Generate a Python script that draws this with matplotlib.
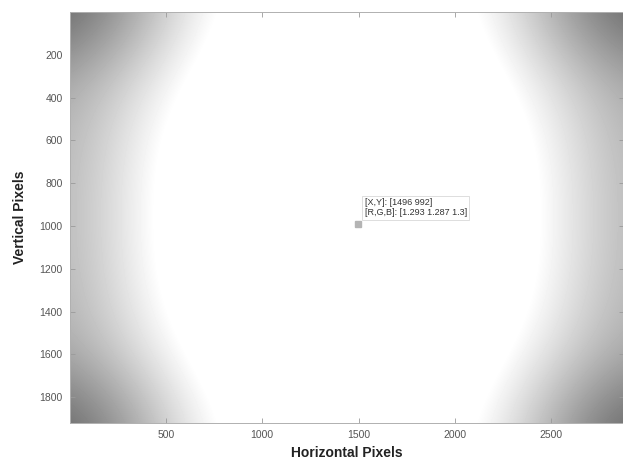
import numpy as np
import matplotlib
matplotlib.use("Agg")
import matplotlib.pyplot as plt

plt.rcParams['font.family'] = ['Liberation Sans', 'DejaVu Sans']

sample_x = [0, 360, 720, 1080, 1440, 1800, 2160, 2520, 2880]
sample_y = [0, 320, 640, 960, 1280, 1600, 1920]
intensity_rows = [
    [0.38, 0.66, 0.99, 1.10, 1.13, 1.10, 0.99, 0.66, 0.38],
    [0.66, 0.87, 1.08, 1.20, 1.24, 1.20, 1.08, 0.87, 0.66],
    [0.71, 0.95, 1.15, 1.25, 1.28, 1.25, 1.15, 0.95, 0.71],
    [0.72, 0.96, 1.17, 1.27, 1.30, 1.27, 1.17, 0.96, 0.72],
    [0.71, 0.95, 1.15, 1.25, 1.28, 1.25, 1.15, 0.95, 0.71],
    [0.66, 0.87, 1.08, 1.20, 1.24, 1.20, 1.08, 0.87, 0.66],
    [0.38, 0.66, 0.99, 1.10, 1.13, 1.10, 0.99, 0.66, 0.38],
]
img_width = 2880
img_height = 1920

tip_x, tip_y = 1496, 992
tip_rgb = [1.293, 1.287, 1.3]

x_ticks = [500, 1000, 1500, 2000, 2500]
y_ticks = [200, 400, 600, 800, 1000, 1200, 1400, 1600, 1800]

fig = plt.figure(figsize=(6.23, 4.59), dpi=100)
ax = fig.add_axes([0.1119, 0.0784, 0.8905, 0.8952])

grid = np.array(intensity_rows)
dx = sample_x[1] - sample_x[0]
dy = sample_y[1] - sample_y[0]
ax.imshow(grid, cmap='gray', vmin=0, vmax=1, interpolation='bicubic',
          extent=(sample_x[0] - dx / 2, sample_x[-1] + dx / 2,
                  sample_y[-1] + dy / 2, sample_y[0] - dy / 2),
          aspect='auto')
ax.set_xlim(0.5, img_width + 0.5)
ax.set_ylim(img_height + 0.5, 0.5)

ax.plot([tip_x], [tip_y], marker='s', markersize=4, color='#b4b4b4',
        markeredgecolor='#b4b4b4', linestyle='none')
txt = "[X,Y]: [%d %d]\n[R,G,B]: [%s %s %s]" % (tip_x, tip_y, *[str(v) for v in tip_rgb])
ax.annotate(txt, xy=(tip_x, tip_y), xytext=(5, 5), textcoords='offset points',
            ha='left', va='bottom', fontsize=6.5, color='#333333', linespacing=1.15,
            bbox=dict(boxstyle='square,pad=0.25', fc='white', ec='#d8d8d8', lw=0.6))

ax.set_xticks(x_ticks)
ax.set_yticks(y_ticks)
ax.tick_params(direction='in', length=3.5, width=0.6, colors='#9a9a9a',
               labelcolor='#555555', labelsize=7.5, top=True, right=True, pad=5)
for s in ax.spines.values():
    s.set_color('#b0b0b0')
    s.set_linewidth(0.7)

ax.set_xlabel('Horizontal Pixels', fontsize=10, fontweight='bold', color='#222222', labelpad=4)
ax.set_ylabel('Vertical Pixels', fontsize=10, fontweight='bold', color='#222222', labelpad=9)

fig.savefig('out.png', dpi=100)
